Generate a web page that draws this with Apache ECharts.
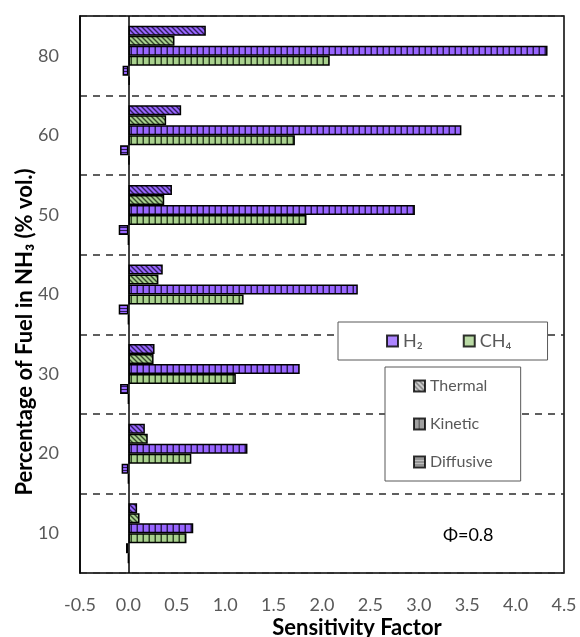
<!DOCTYPE html>
<html>
<head>
<meta charset="utf-8">
<script src="https://cdn.jsdelivr.net/npm/echarts@6/dist/echarts.min.js"></script>
<style>html,body{margin:0;padding:0;background:#fff;}#c{width:580px;height:637px;}</style>
</head>
<body>
<div id="c"></div>
<script>
// categories (bottom to top)
const categories = ['10', '20', '30', '40', '50', '60', '80'];
// series values, same order as categories
const h2Thermal    = [0.09, 0.17, 0.27, 0.355, 0.45, 0.545, 0.80];
const ch4Thermal   = [0.115, 0.20, 0.26, 0.31, 0.37, 0.39, 0.476];
const h2Kinetic    = [0.67, 1.23, 1.77, 2.37, 2.96, 3.44, 4.33];
const ch4Kinetic   = [0.60, 0.65, 1.11, 1.19, 1.84, 1.72, 2.08];
const h2Diffusive  = [-0.025, -0.07, -0.086, -0.10, -0.10, -0.086, -0.06];
const ch4Diffusive = [0, 0, 0, 0, 0, 0.012, 0.015];
const xTicks = { min: -0.5, max: 4.5, interval: 0.5 };
const fuelNames = ['H₂', 'CH₄'];
const modeNames = ['Thermal', 'Kinetic', 'Diffusive'];

const PURPLE = '#9966FF', GREEN = '#A9D18E';
function pattern(bg, kind, line) {
  const c = document.createElement('canvas');
  const ctx = c.getContext('2d');
  if (kind === 'diag') {
    c.width = 5; c.height = 5;
    ctx.fillStyle = bg; ctx.fillRect(0, 0, 5, 5);
    ctx.strokeStyle = line; ctx.lineWidth = 1.4;
    ctx.beginPath();
    ctx.moveTo(-1, -1); ctx.lineTo(6, 6);
    ctx.moveTo(-1, 4); ctx.lineTo(1, 6);
    ctx.moveTo(4, -1); ctx.lineTo(6, 1);
    ctx.stroke();
  } else if (kind === 'vert') {
    c.width = 6; c.height = 6;
    ctx.fillStyle = bg; ctx.fillRect(0, 0, 6, 6);
    ctx.fillStyle = line; ctx.fillRect(4.5, 0, 1.5, 6);
  } else if (kind === 'horiz') {
    c.width = 6; c.height = 3;
    ctx.fillStyle = bg; ctx.fillRect(0, 0, 6, 3);
    ctx.fillStyle = line; ctx.fillRect(0, 2, 6, 1);
  } else {
    c.width = 4; c.height = 4;
    ctx.fillStyle = bg; ctx.fillRect(0, 0, 4, 4);
  }
  return { image: c, repeat: 'repeat' };
}

function barSeries(name, data, color) {
  return {
    name: name, type: 'bar', data: data,
    barWidth: 10, barGap: '0%',
    itemStyle: { color: color, borderColor: '#000', borderWidth: 1.5 },
    emphasis: { disabled: true },
    z: 3
  };
}

const series = [
  barSeries('H₂ Thermal', h2Thermal, pattern(PURPLE, 'diag', '#2f1d5c')),
  barSeries('CH₄ Thermal', ch4Thermal, pattern(GREEN, 'diag', '#34482a')),
  barSeries('H₂ Kinetic', h2Kinetic, pattern(PURPLE, 'vert', '#2a1a55')),
  barSeries('CH₄ Kinetic', ch4Kinetic, pattern(GREEN, 'vert', '#2e4522')),
  barSeries('H₂ Diffusive', h2Diffusive, pattern(PURPLE, 'horiz', '#2a1a55')),
  barSeries('CH₄ Diffusive', ch4Diffusive, pattern(GREEN, 'horiz', '#2e4522'))
];
series[0].markLine = {
  silent: true, symbol: ['none', 'none'], label: { show: false },
  lineStyle: { color: '#000', width: 1.5, type: 'solid' },
  data: [{ xAxis: 0 }], z: 5
};
const legendStyles = {
  'H₂': PURPLE, 'CH₄': GREEN,
  'Thermal': pattern('#C8C8C8', 'diag', '#555'),
  'Kinetic': pattern('#8A8A8A', 'vert', '#444'),
  'Diffusive': pattern('#B0B0B0', 'horiz', '#444')
};
fuelNames.concat(modeNames).forEach(n => {
  series.push({
    name: n, type: 'scatter', data: [], symbol: 'rect',
    itemStyle: { color: legendStyles[n], borderColor: '#000', borderWidth: 1.2 }
  });
});

const FONT = 'Lato, "Open Sans", sans-serif';
const chart = echarts.init(document.getElementById('c'));
chart.setOption({
  animation: false,
  backgroundColor: '#fff',
  textStyle: { fontFamily: FONT },
  grid: { left: 80, right: 16, top: 16, bottom: 64, show: true,
          borderColor: '#000', borderWidth: 1.5, backgroundColor: 'transparent' },
  xAxis: {
    type: 'value', min: xTicks.min, max: xTicks.max, interval: xTicks.interval,
    axisLine: { show: false }, axisTick: { show: false }, splitLine: { show: false },
    axisLabel: { color: '#595959', fontSize: 18, margin: 23, fontFamily: FONT,
                 formatter: v => v.toFixed(1) }
  },
  yAxis: {
    type: 'category', data: categories,
    axisLine: { show: true, onZero: false, lineStyle: { color: '#000', width: 1.5 } },
    axisTick: { show: false },
    axisLabel: { color: '#595959', fontSize: 18, margin: 21, fontFamily: FONT },
    splitLine: { show: true, lineStyle: { color: '#2b2b2b', width: 1.5, type: [7, 6] } }
  },
  legend: [
    {
      data: fuelNames, orient: 'horizontal', left: 338, top: 322,
      padding: [10, 36, 10, 48], itemGap: 40, itemWidth: 11, itemHeight: 11,
      icon: 'rect', backgroundColor: '#fff', borderColor: '#595959', borderWidth: 1,
      textStyle: { color: '#595959', fontSize: 18, fontFamily: FONT },
      selectedMode: false, z: 10
    },
    {
      data: modeNames, orient: 'vertical', left: 385, top: 367,
      padding: [11, 28, 11, 28], itemGap: 22, itemWidth: 11, itemHeight: 11,
      icon: 'rect', backgroundColor: '#fff', borderColor: '#595959', borderWidth: 1,
      textStyle: { color: '#595959', fontSize: 16, fontFamily: FONT },
      selectedMode: false, z: 10
    }
  ],
  graphic: [
    { type: 'text', x: 25, y: 332, rotation: Math.PI / 2, z: 20,
      style: { text: 'Percentage of Fuel in NH₃ (% vol.)', font: 'bold 22px ' + FONT,
               fill: '#000', align: 'center', verticalAlign: 'middle',
               textAlign: 'center', textVerticalAlign: 'middle' } },
    { type: 'text', x: 357, y: 628, z: 20,
      style: { text: 'Sensitivity Factor', font: 'bold 22px ' + FONT,
               fill: '#000', align: 'center', verticalAlign: 'middle',
               textAlign: 'center', textVerticalAlign: 'middle' } },
    { type: 'text', x: 443, y: 535, z: 20,
      style: { text: 'Φ=0.8', font: '18px ' + FONT, fill: '#000',
               align: 'left', verticalAlign: 'middle',
               textAlign: 'left', textVerticalAlign: 'middle' } }
  ],
  series: series
});
</script>
</body>
</html>
